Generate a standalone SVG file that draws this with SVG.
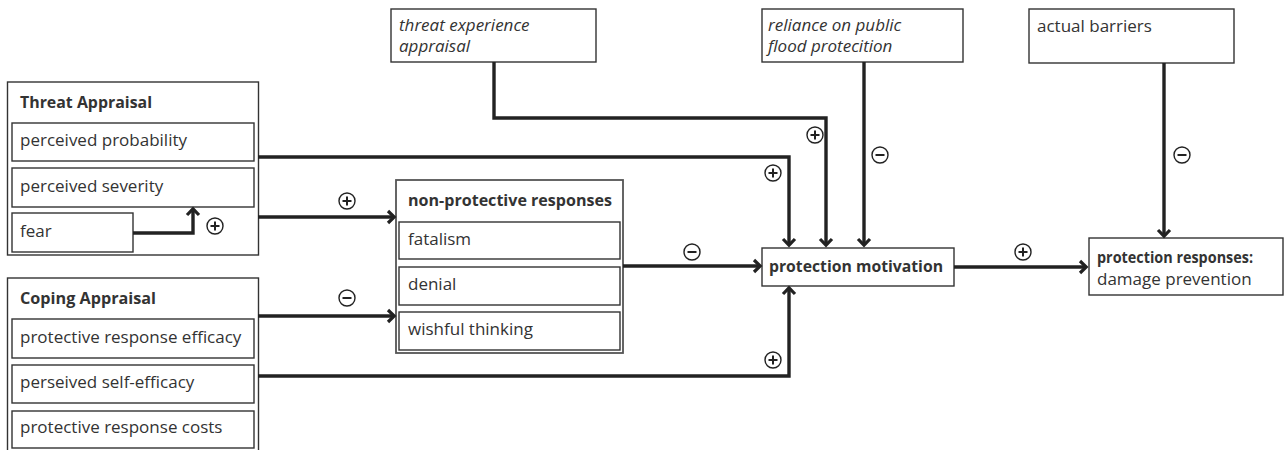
<svg xmlns="http://www.w3.org/2000/svg" width="1285" height="450" viewBox="0 0 1285 450">
<style>
.box{fill:#fff;stroke:#333;stroke-width:1.4}
.t{font-family:"Open Sans","Liberation Sans",sans-serif;font-size:17px;fill:#333}
.b{font-weight:bold;font-size:16px}
.i{font-style:italic}
.c{fill:none;stroke:#222;stroke-width:3.4;stroke-linejoin:miter}
.sg{fill:#fff;stroke:#222;stroke-width:1.4}
.sl{stroke:#222;stroke-width:2}
</style>
<defs>
<marker id="ah" markerUnits="userSpaceOnUse" markerWidth="24" markerHeight="24" viewBox="-12 -12 24 24" refX="0" refY="0" orient="auto">
<path d="M-6,-6 L0.2,0 L-6,6" fill="none" stroke="#222" stroke-width="3.2"/>
</marker>
<g id="plus"><circle r="8" class="sg"/><path d="M-4.5,0 H4.5 M0,-4.5 V4.5" class="sl"/></g>
<g id="minus"><circle r="8" class="sg"/><path d="M-4.5,0 H4.5" class="sl"/></g>
</defs>
<rect width="1285" height="450" fill="#fff"/>

<g id="threat-appraisal">
<rect class="box" x="7.5" y="82" width="251" height="173"/>
<text class="t b" x="20" y="108" textLength="132" lengthAdjust="spacingAndGlyphs">Threat Appraisal</text>
<rect class="box" x="12" y="123" width="242" height="38"/>
<text class="t" x="20" y="146">perceived probability</text>
<rect class="box" x="12" y="168" width="242" height="39"/>
<text class="t" x="20" y="192">perceived severity</text>
<rect class="box" x="12" y="213" width="121" height="39"/>
<text class="t" x="20" y="237">fear</text>
</g>

<g id="coping-appraisal">
<rect class="box" x="7.5" y="278" width="251" height="180"/>
<text class="t b" x="20" y="304" textLength="136" lengthAdjust="spacingAndGlyphs">Coping Appraisal</text>
<rect class="box" x="12" y="319" width="242" height="39"/>
<text class="t" x="20" y="343">protective response efficacy</text>
<rect class="box" x="12" y="365" width="242" height="38"/>
<text class="t" x="20" y="388">perseived self-efficacy</text>
<rect class="box" x="12" y="411" width="242" height="37"/>
<text class="t" x="20" y="433">protective response costs</text>
</g>

<g id="non-protective">
<rect class="box" x="396" y="180" width="227" height="173" style="stroke-width:1.8;stroke:#555"/>
<text class="t b" x="408" y="206" textLength="204" lengthAdjust="spacingAndGlyphs">non-protective responses</text>
<rect class="box" x="399" y="222" width="221" height="37"/>
<text class="t" x="408" y="245">fatalism</text>
<rect class="box" x="399" y="267" width="221" height="38"/>
<text class="t" x="408" y="290">denial</text>
<rect class="box" x="399" y="312" width="221" height="38"/>
<text class="t" x="408" y="335">wishful thinking</text>
</g>

<g id="threat-experience">
<rect class="box" x="391" y="9" width="205" height="53"/>
<text class="t i" x="399" y="31">threat experience</text>
<text class="t i" x="399" y="52">appraisal</text>
</g>

<g id="reliance">
<rect class="box" x="762" y="9" width="201" height="53"/>
<text class="t i" x="768" y="31">reliance on public</text>
<text class="t i" x="768" y="52">flood protecition</text>
</g>

<g id="actual-barriers">
<rect class="box" x="1029" y="9" width="205" height="54"/>
<text class="t" x="1037" y="32">actual barriers</text>
</g>

<g id="protection-motivation">
<rect class="box" x="762" y="248" width="192" height="38"/>
<text class="t b" x="769" y="272" textLength="174" lengthAdjust="spacingAndGlyphs">protection motivation</text>
</g>

<g id="protection-responses">
<rect class="box" x="1089" y="238" width="194" height="57"/>
<text class="t b" x="1097" y="263" textLength="156" lengthAdjust="spacingAndGlyphs">protection responses:</text>
<text class="t" x="1097" y="285">damage prevention</text>
</g>

<g id="connectors">
<path class="c" d="M133,233 H193 V209" marker-end="url(#ah)"/>
<path class="c" d="M258,157 H789 V245" marker-end="url(#ah)"/>
<path class="c" d="M494,62 V118 H826 V245" marker-end="url(#ah)"/>
<path class="c" d="M864,62 V245" marker-end="url(#ah)"/>
<path class="c" d="M258,217 H394" marker-end="url(#ah)"/>
<path class="c" d="M258,316 H394" marker-end="url(#ah)"/>
<path class="c" d="M623,266 H760" marker-end="url(#ah)"/>
<path class="c" d="M258,376 H789 V288" marker-end="url(#ah)"/>
<path class="c" d="M954,267 H1086" marker-end="url(#ah)"/>
<path class="c" d="M1164,63 V236" marker-end="url(#ah)"/>
<use href="#plus" x="215" y="226"/>
<use href="#plus" x="815" y="135"/>
<use href="#plus" x="773" y="173"/>
<use href="#minus" x="880" y="155"/>
<use href="#plus" x="347" y="201"/>
<use href="#minus" x="347" y="298"/>
<use href="#minus" x="692" y="252"/>
<use href="#plus" x="773" y="360"/>
<use href="#plus" x="1023" y="252"/>
<use href="#minus" x="1182" y="155"/>
</g>
</svg>
